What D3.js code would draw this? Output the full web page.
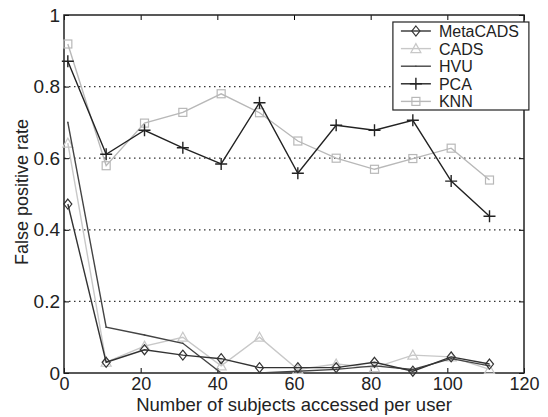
<!DOCTYPE html>
<html>
<head>
<meta charset="utf-8">
<script src="https://cdn.jsdelivr.net/npm/d3@7"></script>
<style>
  body { margin: 0; background: #fff; }
  text { font-family: "Liberation Sans", Arial, sans-serif; fill: #222; }
</style>
</head>
<body>
<div class="chart"></div>
<script>
// data
const subjects = [1, 11, 21, 31, 41, 51, 61, 71, 81, 91, 101, 111];
const metaCADS = [0.472, 0.03, 0.065, 0.05, 0.04, 0.015, 0.015, 0.015, 0.03, 0.005, 0.045, 0.025];
const cads     = [0.642, 0.03, 0.075, 0.10, 0.02, 0.10, 0.01, 0.025, 0.015, 0.05, 0.045, 0.01];
const hvu      = [0.70, 0.128, 0.106, 0.083, 0.0, 0.0, 0.005, 0.01, 0.02, 0.01, 0.04, 0.02];
const pca      = [0.871, 0.611, 0.678, 0.629, 0.584, 0.755, 0.558, 0.692, 0.678, 0.706, 0.536, 0.438];
const knn      = [0.919, 0.579, 0.698, 0.728, 0.78, 0.727, 0.648, 0.60, 0.569, 0.599, 0.628, 0.539];
const xTicks = [0, 20, 40, 60, 80, 100, 120];
const yTicks = [0, 0.2, 0.4, 0.6, 0.8, 1];

const series = [
  {name: "MetaCADS", values: metaCADS, color: "#333", marker: "diamond"},
  {name: "CADS", values: cads, color: "#c8c8c8", marker: "triangle"},
  {name: "HVU", values: hvu, color: "#444", marker: "dot"},
  {name: "PCA", values: pca, color: "#222", marker: "plus"},
  {name: "KNN", values: knn, color: "#b8b8b8", marker: "square"}
];

const margin = {top: 15, right: 24, bottom: 44, left: 64},
    width = 548 - margin.left - margin.right,
    height = 417 - margin.top - margin.bottom;

const svg = d3.select(".chart")
  .append("svg")
    .attr("width", 548)
    .attr("height", 417)
  .append("g")
    .attr("transform", `translate(${margin.left}, ${margin.top})`);

const x = d3.scaleLinear().domain([0, 120]).range([0, width]);
const y = d3.scaleLinear().domain([0, 1]).range([height, 0]);

// dotted grid lines
svg.selectAll(".grid")
  .data(yTicks.filter(d => d > 0 && d < 1))
  .join("line")
    .attr("x1", 0).attr("x2", width)
    .attr("y1", d => y(d)).attr("y2", d => y(d))
    .attr("stroke", "#333")
    .attr("stroke-width", 1.2)
    .attr("stroke-dasharray", "1.5,3.5");

// axes with inward ticks
svg.append("g")
  .attr("transform", `translate(0, ${height})`)
  .call(d3.axisBottom(x).tickValues(xTicks).tickSizeInner(-5).tickSizeOuter(0).tickPadding(4).tickFormat(d3.format("d")))
  .call(g => g.select(".domain").remove())
  .selectAll("text").style("font-size", "18px").attr("fill", "#222");
svg.append("g")
  .call(d3.axisTop(x).tickValues(xTicks).tickSizeInner(-5).tickSizeOuter(0).tickFormat(""))
  .call(g => g.select(".domain").remove());
svg.append("g")
  .call(d3.axisLeft(y).tickValues(yTicks).tickSizeInner(-5).tickSizeOuter(0).tickPadding(4)
    .tickFormat(d => d === 0 || d === 1 ? d3.format("d")(d) : d3.format(".1f")(d)))
  .call(g => g.select(".domain").remove())
  .selectAll("text").style("font-size", "19px").attr("fill", "#222");
svg.append("g")
  .attr("transform", `translate(${width}, 0)`)
  .call(d3.axisRight(y).tickValues(yTicks).tickSizeInner(-5).tickSizeOuter(0).tickFormat(""))
  .call(g => g.select(".domain").remove());

svg.append("rect")
  .attr("width", width).attr("height", height)
  .attr("fill", "none").attr("stroke", "#222").attr("stroke-width", 1.5);

// markers
function drawMarker(g, type, color) {
  if (type === "diamond") {
    g.append("path").attr("d", "M0,-5L4,0L0,5L-4,0Z")
      .attr("fill", "none").attr("stroke", color).attr("stroke-width", 1.2);
  } else if (type === "triangle") {
    g.append("path").attr("d", "M0,-5L5,4L-5,4Z")
      .attr("fill", "none").attr("stroke", color).attr("stroke-width", 1.2);
  } else if (type === "square") {
    g.append("rect").attr("x", -4).attr("y", -4).attr("width", 8).attr("height", 8)
      .attr("fill", "none").attr("stroke", color).attr("stroke-width", 1.2);
  } else if (type === "plus") {
    g.append("path").attr("d", "M-6,0H6M0,-6V6")
      .attr("stroke", color).attr("stroke-width", 1.4);
  } else {
    g.append("circle").attr("r", 0.8).attr("fill", color);
  }
}

const line = d3.line()
  .x((d, i) => x(subjects[i]))
  .y(d => y(d));

// lighter series first so dark lines sit on top
const order = ["KNN", "CADS", "HVU", "MetaCADS", "PCA"];
order.forEach(name => {
  const s = series.find(d => d.name === name);
  svg.append("path")
    .datum(s.values)
    .attr("d", line)
    .attr("fill", "none")
    .attr("stroke", s.color)
    .attr("stroke-width", 1.4);
  svg.selectAll(null)
    .data(s.values)
    .join("g")
      .attr("transform", (d, i) => `translate(${x(subjects[i])}, ${y(d)})`)
      .each(function() { drawMarker(d3.select(this), s.marker, s.color); });
});

// legend
const legend = svg.append("g").attr("transform", `translate(${x(85.8)}, 7)`);
legend.append("rect")
  .attr("width", 136).attr("height", 88)
  .attr("fill", "#fff").attr("stroke", "#222").attr("stroke-width", 1.2);
series.forEach((s, i) => {
  const row = legend.append("g").attr("transform", `translate(0, ${9 + i * 17.6})`);
  row.append("line").attr("x1", 8).attr("x2", 38)
    .attr("stroke", s.color).attr("stroke-width", 1.4);
  drawMarker(row.append("g").attr("transform", "translate(23,0)"), s.marker, s.color);
  row.append("text").attr("x", 46).attr("y", 6)
    .style("font-size", "16px").text(s.name);
});

// axis titles
svg.append("text")
  .attr("x", 230).attr("y", height + 38)
  .attr("text-anchor", "middle")
  .style("font-size", "18.5px")
  .text("Number of subjects accessed per user");
svg.append("text")
  .attr("transform", `translate(-36, ${height / 2 - 2}) rotate(-90)`)
  .attr("text-anchor", "middle")
  .style("font-size", "18px")
  .text("False positive rate");
</script>
</body>
</html>
